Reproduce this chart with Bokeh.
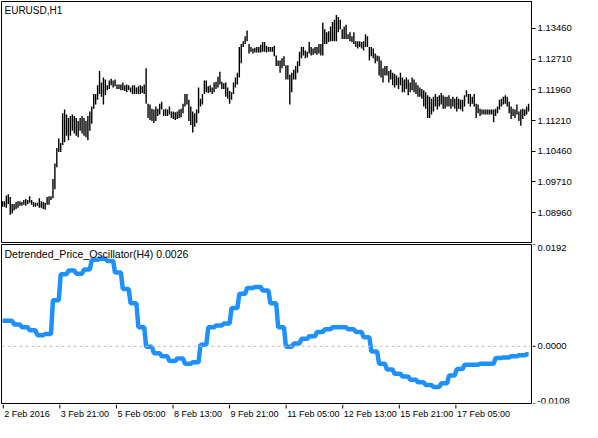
import numpy as np
from bokeh.plotting import figure
from bokeh.layouts import column, row
from bokeh.models import Range1d, LinearAxis, FixedTicker, PrintfTickFormatter, Label, Span
from bokeh.core.properties import value
from bokeh.embed import file_html
from bokeh.resources import INLINE

symbol_label = "EURUSD,H1"
osc_label = "Detrended_Price_Oscillator(H4) 0.0026"

high = [
    1.0924, 1.0924, 1.0938, 1.0941, 1.0934, 1.0917, 1.0917, 1.0922, 1.0924, 1.0924,
    1.0922, 1.0927, 1.0929, 1.0927, 1.0936, 1.0927, 1.0922, 1.0920, 1.0920, 1.0931,
    1.0924, 1.0922, 1.0920, 1.0934, 1.0936, 1.0936, 1.0978, 1.1016, 1.1054, 1.1077,
    1.1066, 1.1139, 1.1148, 1.1136, 1.1127, 1.1132, 1.1136, 1.1132, 1.1127, 1.1120,
    1.1127, 1.1132, 1.1127, 1.1120, 1.1132, 1.1143, 1.1155, 1.1186, 1.1186, 1.1207,
    1.1242, 1.1214, 1.1226, 1.1221, 1.1207, 1.1219, 1.1223, 1.1219, 1.1221, 1.1209,
    1.1209, 1.1209, 1.1214, 1.1207, 1.1209, 1.1207, 1.1202, 1.1207, 1.1207, 1.1202,
    1.1205, 1.1207, 1.1205, 1.1209, 1.1249, 1.1162, 1.1160, 1.1150, 1.1148, 1.1155,
    1.1150, 1.1162, 1.1167, 1.1148, 1.1150, 1.1148, 1.1155, 1.1143, 1.1143, 1.1141,
    1.1143, 1.1148, 1.1150, 1.1162, 1.1186, 1.1186, 1.1172, 1.1155, 1.1143, 1.1139,
    1.1148, 1.1202, 1.1174, 1.1186, 1.1219, 1.1219, 1.1205, 1.1207, 1.1202, 1.1214,
    1.1216, 1.1228, 1.1240, 1.1216, 1.1212, 1.1214, 1.1202, 1.1193, 1.1190, 1.1214,
    1.1226, 1.1238, 1.1301, 1.1308, 1.1315, 1.1327, 1.1341, 1.1308, 1.1301, 1.1297,
    1.1299, 1.1301, 1.1301, 1.1306, 1.1313, 1.1313, 1.1304, 1.1301, 1.1301, 1.1301,
    1.1304, 1.1280, 1.1268, 1.1268, 1.1273, 1.1278, 1.1256, 1.1256, 1.1233, 1.1238,
    1.1245, 1.1254, 1.1266, 1.1289, 1.1301, 1.1301, 1.1292, 1.1289, 1.1313, 1.1301,
    1.1297, 1.1301, 1.1301, 1.1308, 1.1308, 1.1360, 1.1344, 1.1337, 1.1339, 1.1351,
    1.1362, 1.1367, 1.1379, 1.1374, 1.1367, 1.1344, 1.1351, 1.1355, 1.1332, 1.1337,
    1.1327, 1.1337, 1.1315, 1.1315, 1.1315, 1.1313, 1.1315, 1.1332, 1.1327, 1.1301,
    1.1301, 1.1297, 1.1285, 1.1280, 1.1278, 1.1268, 1.1249, 1.1254, 1.1254, 1.1242,
    1.1245, 1.1238, 1.1235, 1.1231, 1.1226, 1.1238, 1.1226, 1.1221, 1.1226, 1.1221,
    1.1214, 1.1226, 1.1221, 1.1214, 1.1207, 1.1202, 1.1198, 1.1195, 1.1190, 1.1183,
    1.1179, 1.1174, 1.1179, 1.1186, 1.1179, 1.1183, 1.1188, 1.1183, 1.1179, 1.1179,
    1.1183, 1.1174, 1.1179, 1.1174, 1.1179, 1.1174, 1.1172, 1.1172, 1.1183, 1.1195,
    1.1186, 1.1186, 1.1179, 1.1186, 1.1162, 1.1160, 1.1150, 1.1148, 1.1148, 1.1148,
    1.1148, 1.1148, 1.1148, 1.1148, 1.1150, 1.1155, 1.1172, 1.1174, 1.1179, 1.1183,
    1.1179, 1.1167, 1.1155, 1.1150, 1.1148, 1.1160, 1.1143, 1.1148, 1.1150, 1.1148,
    1.1155, 1.1162,
]

low = [
    1.0910, 1.0910, 1.0908, 1.0917, 1.0891, 1.0894, 1.0901, 1.0905, 1.0908, 1.0913,
    1.0913, 1.0915, 1.0913, 1.0917, 1.0920, 1.0915, 1.0910, 1.0910, 1.0913, 1.0908,
    1.0908, 1.0905, 1.0903, 1.0915, 1.0915, 1.0927, 1.0931, 1.0953, 1.1007, 1.1044,
    1.1044, 1.1061, 1.1068, 1.1084, 1.1073, 1.1084, 1.1096, 1.1089, 1.1084, 1.1080,
    1.1096, 1.1089, 1.1084, 1.1080, 1.1073, 1.1096, 1.1113, 1.1150, 1.1160, 1.1172,
    1.1186, 1.1179, 1.1160, 1.1183, 1.1195, 1.1198, 1.1207, 1.1202, 1.1205, 1.1198,
    1.1198, 1.1195, 1.1195, 1.1193, 1.1190, 1.1195, 1.1190, 1.1186, 1.1186, 1.1186,
    1.1186, 1.1186, 1.1188, 1.1186, 1.1162, 1.1127, 1.1122, 1.1120, 1.1115, 1.1120,
    1.1132, 1.1136, 1.1148, 1.1132, 1.1132, 1.1132, 1.1136, 1.1127, 1.1125, 1.1122,
    1.1125, 1.1127, 1.1129, 1.1139, 1.1155, 1.1160, 1.1120, 1.1110, 1.1092, 1.1106,
    1.1115, 1.1139, 1.1155, 1.1160, 1.1186, 1.1190, 1.1188, 1.1190, 1.1186, 1.1190,
    1.1198, 1.1202, 1.1209, 1.1198, 1.1198, 1.1179, 1.1174, 1.1162, 1.1172, 1.1186,
    1.1202, 1.1209, 1.1226, 1.1261, 1.1301, 1.1308, 1.1315, 1.1285, 1.1289, 1.1285,
    1.1287, 1.1287, 1.1287, 1.1287, 1.1289, 1.1289, 1.1287, 1.1289, 1.1289, 1.1289,
    1.1278, 1.1254, 1.1254, 1.1238, 1.1249, 1.1254, 1.1221, 1.1221, 1.1160, 1.1190,
    1.1221, 1.1221, 1.1238, 1.1254, 1.1273, 1.1280, 1.1273, 1.1275, 1.1285, 1.1280,
    1.1282, 1.1285, 1.1282, 1.1285, 1.1280, 1.1280, 1.1308, 1.1308, 1.1313, 1.1315,
    1.1315, 1.1315, 1.1315, 1.1337, 1.1344, 1.1320, 1.1320, 1.1320, 1.1320, 1.1315,
    1.1313, 1.1308, 1.1301, 1.1297, 1.1301, 1.1297, 1.1292, 1.1301, 1.1301, 1.1268,
    1.1278, 1.1273, 1.1261, 1.1266, 1.1231, 1.1226, 1.1214, 1.1231, 1.1231, 1.1214,
    1.1221, 1.1207, 1.1202, 1.1207, 1.1198, 1.1207, 1.1190, 1.1190, 1.1198, 1.1183,
    1.1190, 1.1195, 1.1190, 1.1186, 1.1179, 1.1179, 1.1174, 1.1155, 1.1150, 1.1127,
    1.1127, 1.1136, 1.1143, 1.1155, 1.1148, 1.1155, 1.1160, 1.1150, 1.1150, 1.1155,
    1.1155, 1.1150, 1.1155, 1.1150, 1.1143, 1.1150, 1.1148, 1.1143, 1.1155, 1.1179,
    1.1162, 1.1155, 1.1162, 1.1155, 1.1127, 1.1139, 1.1132, 1.1136, 1.1136, 1.1136,
    1.1136, 1.1136, 1.1136, 1.1117, 1.1132, 1.1139, 1.1148, 1.1155, 1.1160, 1.1162,
    1.1155, 1.1139, 1.1125, 1.1132, 1.1127, 1.1136, 1.1120, 1.1108, 1.1125, 1.1132,
    1.1136, 1.1143,
]

# Detrended Price Oscillator, one value per H4 bar (shown on the H1 chart)
dpo_h4 = [
    0.0048, 0.0048, 0.0041, 0.0036, 0.0030, 0.0021, 0.0023, 0.0087, 0.0136, 0.0143,
    0.0137, 0.0145, 0.0163, 0.0165, 0.0161, 0.0139, 0.0108, 0.0081, 0.0036, -0.0001,
    -0.0013, -0.0019, -0.0028, -0.0023, -0.0033, -0.0030, 0.0003, 0.0036, 0.0039, 0.0043,
    0.0072, 0.0099, 0.0110, 0.0112, 0.0105, 0.0081, 0.0036, -0.0001, 0.0005, 0.0014,
    0.0019, 0.0027, 0.0032, 0.0036, 0.0036, 0.0032, 0.0027, 0.0017, -0.0010, -0.0033,
    -0.0044, -0.0052, -0.0057, -0.0063, -0.0068, -0.0073, -0.0077, -0.0070, -0.0055, -0.0043,
    -0.0035, -0.0035, -0.0033, -0.0033, -0.0022, -0.0021, -0.0019, -0.0017, -0.0015,
]
h1_bars_per_h4 = [2] + [4] * 67 + [2]

time_tick_bars = [0, 32, 64, 96, 128, 160, 192, 224, 256]
time_tick_labels = ["2 Feb 2016", "3 Feb 21:00", "5 Feb 05:00", "8 Feb 13:00", "9 Feb 21:00",
                    "11 Feb 05:00", "12 Feb 13:00", "15 Feb 21:00", "17 Feb 05:00"]
price_ticks = [1.08960, 1.09710, 1.10460, 1.11210, 1.11960, 1.12710, 1.13460]
osc_ticks = [-0.0108, 0.0, 0.0192]
osc_tick_labels = ["-0.0108", "0.0000", "0.0192"]

FONT = "Liberation Sans"
FS_NUM = "9.5px"    # price / oscillator scale labels
FS_TIME = "9px"     # time scale labels
FS_TITLE = "10.5px" # window captions
W = 582          # whole width
FW = 530         # plot frame width
RB = W - 1 - FW  # right margin for scale labels
TOP_H = 243
BOT_H = 161
XL_H = 18

n = len(high)
idx = np.arange(n)
x_lo, x_hi = -0.5, n + 0.5
xr = Range1d(x_lo, x_hi)
dpo = np.repeat(np.array(dpo_h4), h1_bars_per_h4)


def base(p, outline=True):
    p.grid.visible = False
    p.outline_line_color = "black" if outline else None
    p.outline_line_width = 1
    p.background_fill_color = "white"
    p.border_fill_color = "white"


# ---------- price panel ----------
top = figure(width=W, height=TOP_H, x_range=xr, y_range=Range1d(1.08229, 1.14119),
             output_backend="svg", toolbar_location=None,
             x_axis_location=None, y_axis_location=None,
             min_border_left=1, min_border_right=RB, min_border_top=1, min_border_bottom=1)
base(top)
pax = LinearAxis(ticker=FixedTicker(ticks=price_ticks), formatter=PrintfTickFormatter(format="%.5f"))
pax.major_tick_out = 4
pax.major_tick_in = 0
pax.minor_tick_line_color = None
pax.axis_line_color = "black"
pax.major_tick_line_color = "black"
pax.major_label_text_font = FONT
pax.major_label_text_font_size = FS_NUM
pax.major_label_text_color = "black"
pax.major_label_standoff = 2
top.add_layout(pax, "right")
top.segment(x0=idx, y0=low, x1=idx, y1=high, line_color="black", line_width=1.4)
top.add_layout(Label(x=3, y=TOP_H - 5, x_units="screen", y_units="screen", text=symbol_label,
                     text_font=FONT, text_font_size="10px", text_color="black", text_baseline="top"))

# ---------- oscillator panel ----------
oyr = Range1d(osc_ticks[0], osc_ticks[-1])
bot = figure(width=FW + 2, height=BOT_H, x_range=xr, y_range=oyr,
             output_backend="svg", toolbar_location=None,
             x_axis_location=None, y_axis_location=None,
             min_border_left=1, min_border_right=1, min_border_top=1, min_border_bottom=1)
base(bot)
bot.add_layout(Span(location=0.0, dimension="width", line_color="#C0C0C0",
                    line_width=1, line_dash="3 3"))
bot.line(idx, dpo, line_color="#1E90FF", line_width=4.5)
bot.add_layout(Label(x=3, y=BOT_H - 5, x_units="screen", y_units="screen", text=osc_label,
                     text_font=FONT, text_font_size=FS_TITLE, text_color="black", text_baseline="top"))

# oscillator scale (right side), sharing the oscillator's y range
osc_scale = figure(width=W - FW - 2, height=BOT_H, x_range=Range1d(0, W - FW - 2), y_range=oyr,
                   output_backend="svg", toolbar_location=None,
                   x_axis_location=None, y_axis_location=None,
                   min_border_left=0, min_border_right=0, min_border_top=1, min_border_bottom=1)
base(osc_scale, outline=False)
osc_scale.segment(x0=[0] * len(osc_ticks), y0=osc_ticks, x1=[3] * len(osc_ticks), y1=osc_ticks,
                  line_color="black", line_width=1)
for v, t, b in zip(osc_ticks, osc_tick_labels, ["bottom", "middle", "top"]):
    osc_scale.text(x=[5], y=[v], text=[t], text_font=value(FONT), text_font_size=value(FS_NUM),
                   text_color="black", text_baseline=b, text_align="left")

# ---------- time scale (bottom) ----------
s = (x_hi - x_lo) / FW
time_scale = figure(width=W, height=XL_H, x_range=Range1d(x_lo - 1 * s, x_lo + (W - 1) * s),
                    y_range=Range1d(0, XL_H), output_backend="svg", toolbar_location=None,
                    x_axis_location=None, y_axis_location=None,
                    min_border_left=0, min_border_right=0, min_border_top=0, min_border_bottom=0)
base(time_scale, outline=False)
time_scale.segment(x0=time_tick_bars, y0=[XL_H] * len(time_tick_bars), x1=time_tick_bars,
                   y1=[XL_H - 4] * len(time_tick_bars), line_color="black", line_width=1)
time_scale.text(x=time_tick_bars, y=[XL_H - 4] * len(time_tick_bars), text=time_tick_labels,
                x_offset=1, text_font=value(FONT), text_font_size=value(FS_TIME), text_color="black",
                text_baseline="top", text_align="left")

layout = column(top, row(bot, osc_scale, spacing=0), time_scale, spacing=0)
open("out.html", "w").write(file_html(layout, INLINE))
